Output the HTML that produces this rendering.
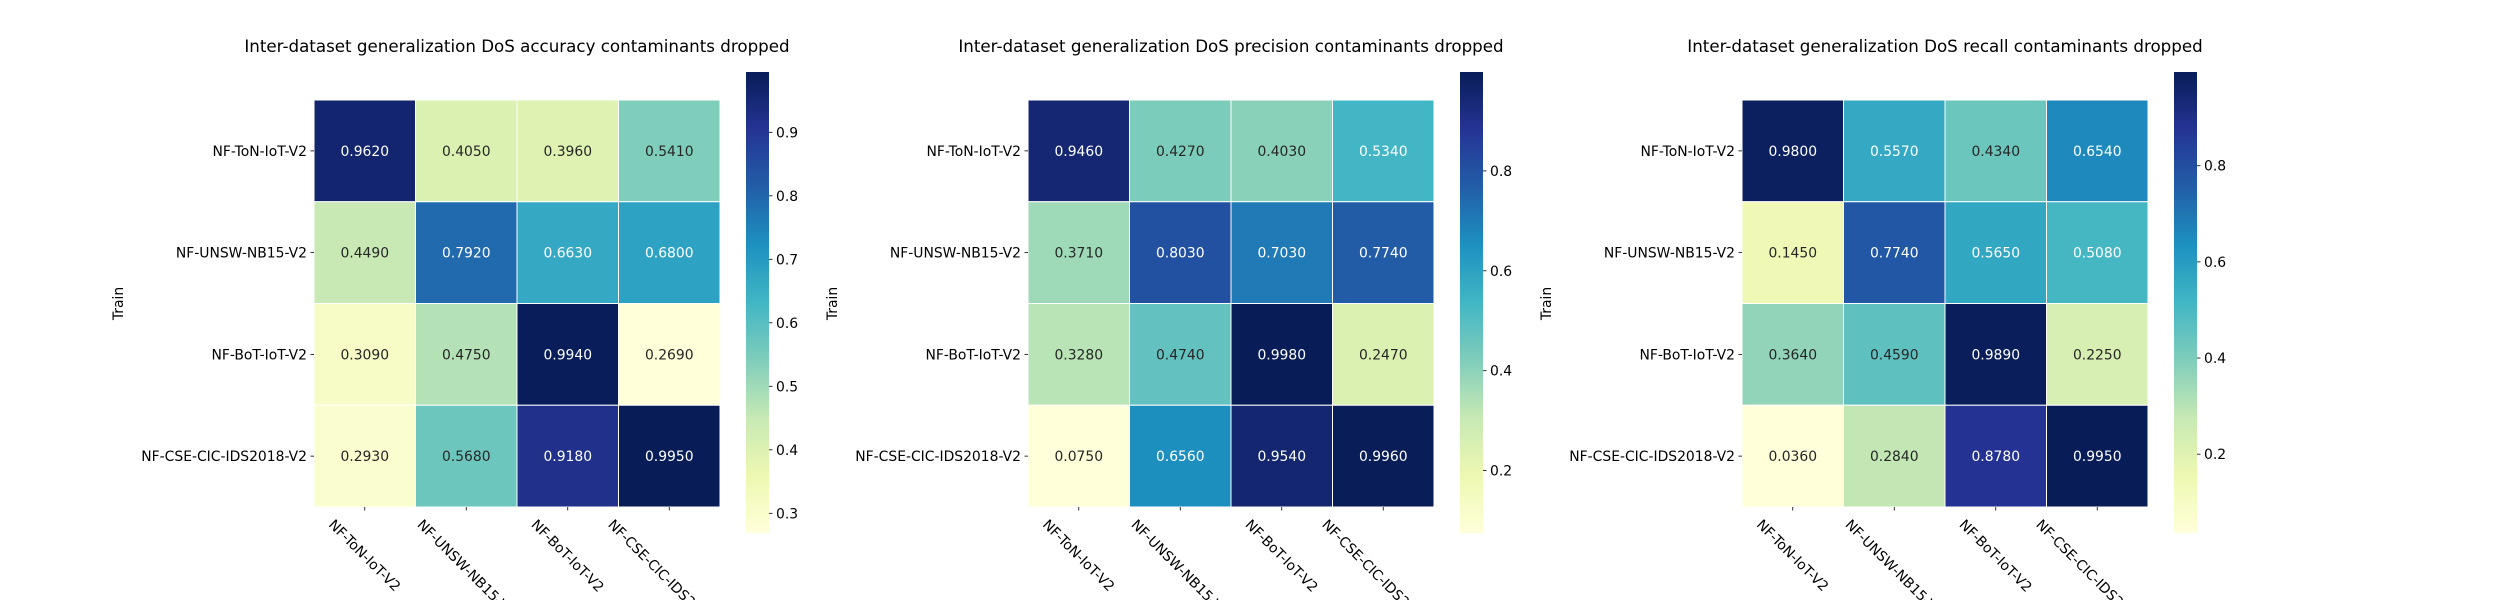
<!DOCTYPE html>
<html><head><meta charset="utf-8">
<style>
html,body{margin:0;padding:0;background:#fff;width:2500px;height:600px;overflow:hidden;}
svg{display:block;font-family:"DejaVu Sans","Liberation Sans",sans-serif;overflow:hidden;}
</style></head>
<body>
<svg id="fig" width="2500" height="600" viewBox="0 0 2500 600" xmlns="http://www.w3.org/2000/svg"></svg>
<script>
const datasets = ["NF-ToN-IoT-V2","NF-UNSW-NB15-V2","NF-BoT-IoT-V2","NF-CSE-CIC-IDS2018-V2"];
const titles = ["Inter-dataset generalization DoS accuracy contaminants dropped","Inter-dataset generalization DoS precision contaminants dropped","Inter-dataset generalization DoS recall contaminants dropped"];
const accuracyValues = [[0.962,0.405,0.396,0.541],[0.449,0.792,0.663,0.680],[0.309,0.475,0.994,0.269],[0.293,0.568,0.918,0.995]];
const precisionValues = [[0.946,0.427,0.403,0.534],[0.371,0.803,0.703,0.774],[0.328,0.474,0.998,0.247],[0.075,0.656,0.954,0.996]];
const recallValues = [[0.980,0.557,0.434,0.654],[0.145,0.774,0.565,0.508],[0.364,0.459,0.989,0.225],[0.036,0.284,0.878,0.995]];
const accuracyTicks = [0.3,0.4,0.5,0.6,0.7,0.8,0.9];
const precisionTicks = [0.2,0.4,0.6,0.8];
const recallTicks = [0.2,0.4,0.6,0.8];

const panelValues = [accuracyValues, precisionValues, recallValues];
const panelTicks = [accuracyTicks, precisionTicks, recallTicks];
const panelNames = ["accuracy","precision","recall"];

const NS = "http://www.w3.org/2000/svg";
const svg = document.getElementById('fig');
const cmap = ["#ffffd9","#edf8b1","#c7e9b4","#7fcdbb","#41b6c4","#1d91c0","#225ea8","#253494","#081d58"];
function hex2rgb(h){return [parseInt(h.substr(1,2),16),parseInt(h.substr(3,2),16),parseInt(h.substr(5,2),16)];}
function colorAt(t){
  t=Math.max(0,Math.min(1,t));
  const p=t*(cmap.length-1), i=Math.min(Math.floor(p),cmap.length-2), f=p-i;
  const a=hex2rgb(cmap[i]), b=hex2rgb(cmap[i+1]);
  return [0,1,2].map(k=>Math.round(a[k]+(b[k]-a[k])*f));
}
function lum(c){
  const l=c.map(v=>{v/=255;return v<=0.03928?v/12.92:Math.pow((v+0.055)/1.055,2.4);});
  return 0.2126*l[0]+0.7152*l[1]+0.0722*l[2];
}
function mk(tag, attrs, parent){
  const e=document.createElementNS(NS,tag);
  for(const k in attrs) e.setAttribute(k,attrs[k]);
  (parent||svg).appendChild(e); return e;
}
const FS=13.9;
const L0=314, T0=100, W=406, H=407, DX=714;
const CBX=746, CBW=23, CBT=72, CBB=533;

panelValues.forEach((vals,p)=>{
  const ox=L0+p*DX;
  const g=mk('g',{});
  
  
  const flat=vals.flat();
  const vmin=Math.min(...flat), vmax=Math.max(...flat);
  const nr=vals.length, nc=vals[0].length;
  const cw=W/nc, ch=H/nr;
  const xScale=j=>ox+j*cw, yScale=i=>T0+i*ch;
  const tt=mk('text',{x:ox+W/2,y:52,'text-anchor':'middle','font-size':16.7,fill:'#000'},g);
  tt.textContent=titles[p];
  
  
  vals.forEach((row,i)=>row.forEach((v,j)=>{
    const c=colorAt((v-vmin)/(vmax-vmin));
    const r=mk('rect',{x:xScale(j),y:yScale(i),width:cw,height:ch,fill:`rgb(${c})`,stroke:'#fff','stroke-width':1},g);
    
    
    const t=mk('text',{x:xScale(j)+cw/2,y:yScale(i)+ch/2+5,'text-anchor':'middle','font-size':FS,fill:lum(c)<0.408?'#fff':'#262626'},g);
    t.textContent=v.toFixed(4);
    
    
  }));
  datasets.forEach((d,i)=>{
    const y=yScale(i)+ch/2;
    mk('line',{x1:ox-3.5,x2:ox,y1:y,y2:y,stroke:'#000','stroke-width':0.8},g);
    const t=mk('text',{x:ox-7,y:y+5,'text-anchor':'end','font-size':FS,fill:'#000'},g);
    t.textContent=d;
    
    
  });
  datasets.forEach((d,j)=>{
    const x=xScale(j)+cw/2;
    mk('line',{x1:x,x2:x,y1:T0+H,y2:T0+H+3.5,stroke:'#000','stroke-width':0.8},g);
    const t=mk('text',{x:0,y:0,'text-anchor':'middle','font-size':FS,fill:'#000'},g);
    t.textContent=d;
    
    
    const len=t.getComputedTextLength();
    const cy=T0+H+10+(len+FS)*0.7071/2;
    t.setAttribute('transform',`translate(${x},${cy}) rotate(45) translate(0,${FS*0.35})`);
  });
  const yl=mk('text',{x:0,y:0,'text-anchor':'middle','font-size':FS,fill:'#000',transform:`translate(${ox-191},${T0+H/2}) rotate(-90)`},g);
  yl.textContent='Train';
  
  
  const cbx=CBX+p*DX;
  const gid='grad'+p;
  const defs=mk('defs',{},g);
  const lg=mk('linearGradient',{id:gid,x1:0,y1:1,x2:0,y2:0},defs);
  cmap.forEach((c,k)=>mk('stop',{offset:k/(cmap.length-1),'stop-color':c},lg));
  const cb=mk('rect',{x:cbx,y:CBT,width:CBW,height:CBB-CBT,fill:`url(#${gid})`},g);
  
  
  const cScale=v=>CBB-(v-vmin)/(vmax-vmin)*(CBB-CBT);
  panelTicks[p].forEach(v=>{
    const y=cScale(v);
    mk('line',{x1:cbx+CBW,x2:cbx+CBW+3.5,y1:y,y2:y,stroke:'#000','stroke-width':0.8},g);
    const t=mk('text',{x:cbx+CBW+7,y:y+5,'font-size':FS,fill:'#000'},g);
    t.textContent=v.toFixed(1);
    
    
  });
});
</script>
</body></html>
